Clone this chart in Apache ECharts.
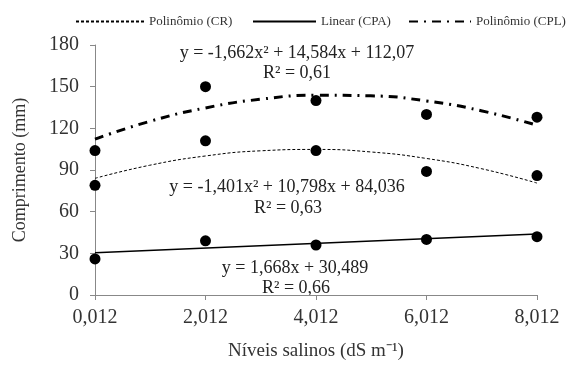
<!DOCTYPE html>
<html>
<head>
    <meta charset="utf-8">
    <style type="text/css">
        html,body { margin: 0px; padding: 0px; background: #fff; }
        #chart { width: 577px; height: 366px; }
    </style>
    <script src="https://cdn.jsdelivr.net/npm/echarts@6/dist/echarts.min.js"></script>
</head>
<body>
    <div id="chart"></div>
    <script type="text/javascript">
        // niveis salinos (dS m-1)
        var levels = [0.012, 2.012, 4.012, 6.012, 8.012];
        var xTickLabels = ['0,012', '2,012', '4,012', '6,012', '8,012'];

        // pontos observados
        var ptsCR  = [79, 111, 104, 89, 86];
        var ptsCPA = [26, 39, 36, 40, 42];
        var ptsCPL = [104, 150, 140, 130, 128];

        // linhas de tendencia
        var curveX   = [0.012, 1, 2.012, 3, 4.012, 5, 6.012, 7, 8.012];
        var curveCR  = [84, 93.4, 100.1, 103.8, 104.8, 103, 98.3, 91, 80.6];
        var curveCPL = [112.2, 125, 134.7, 140.9, 143.8, 143.4, 139.7, 132.7, 122.2];
        var lineX    = [0.012, 8.012];
        var lineCPA  = [30.5, 43.9];

        var FONT = 'Liberation Serif';
        var EQ_FONT = '18px "Liberation Serif"';

        function pairs(xs, ys) {
            return ys.map(function (v, i) { return [xs[i], v]; });
        }

        function eqText(txt, x, y) {
            return { type: 'text', style: { text: txt, x: x, y: y, align: 'center', verticalAlign: 'middle', font: EQ_FONT, fill: '#222' } };
        }

        var chart = echarts.init(document.getElementById('chart'));

        var legendText = { fontFamily: FONT, fontSize: 13, color: '#333' };
        var legendIcon = { opacity: 0 };

        var option = {
            animation: false,
            textStyle: { fontFamily: FONT },
            grid: { left: 95, right: 40, top: 45, bottom: 66 },
            legend: [
                { data: ['Polinômio (CR)'], left: 70, top: 10, itemWidth: 68, itemHeight: 4, itemGap: 6,
                  itemStyle: legendIcon, textStyle: legendText },
                { data: ['Linear (CPA)'], left: 247, top: 10, itemWidth: 63, itemHeight: 4,
                  itemStyle: legendIcon, textStyle: legendText },
                { data: ['Polinômio (CPL)'], left: 403, top: 10, itemWidth: 62, itemHeight: 4,
                  itemStyle: legendIcon, textStyle: legendText }
            ],
            xAxis: {
                type: 'value', min: 0.012, max: 8.012,
                name: 'Níveis salinos (dS m⁻¹)', nameLocation: 'middle', nameGap: 47,
                nameTextStyle: { fontFamily: FONT, fontSize: 19, color: '#333' },
                axisLine: { lineStyle: { color: '#888', width: 1 } },
                axisTick: { show: true, length: 5, lineStyle: { color: '#888' }, customValues: levels },
                axisLabel: {
                    customValues: levels, margin: 13,
                    fontFamily: FONT, fontSize: 20, color: '#333',
                    formatter: function (v) {
                        var i = levels.indexOf(Math.round(v * 1000) / 1000);
                        return i >= 0 ? xTickLabels[i] : '';
                    }
                },
                splitLine: { show: false }
            },
            yAxis: {
                type: 'value', min: 0, max: 180, interval: 30,
                name: 'Comprimento (mm)', nameLocation: 'middle', nameGap: 66,
                nameTextStyle: { fontFamily: FONT, fontSize: 18, color: '#333' },
                axisLine: { show: true, lineStyle: { color: '#888', width: 1 } },
                axisTick: { show: true, length: 5, lineStyle: { color: '#888' } },
                axisLabel: { fontFamily: FONT, fontSize: 20, color: '#333', margin: 16 },
                splitLine: { show: false }
            },
            series: [
                { type: 'scatter', name: 'pCR', data: pairs(levels, ptsCR), symbolSize: 11, itemStyle: { color: '#000', opacity: 1 } },
                { type: 'scatter', name: 'pCPA', data: pairs(levels, ptsCPA), symbolSize: 11, itemStyle: { color: '#000', opacity: 1 } },
                { type: 'scatter', name: 'pCPL', data: pairs(levels, ptsCPL), symbolSize: 11, itemStyle: { color: '#000', opacity: 1 } },
                { type: 'line', name: 'Polinômio (CR)', data: pairs(curveX, curveCR), smooth: true, symbol: 'none',
                  lineStyle: { color: '#000', width: 1, type: [3, 2] }, itemStyle: { color: '#000' } },
                { type: 'line', name: 'Linear (CPA)', data: pairs(lineX, lineCPA), symbol: 'none',
                  lineStyle: { color: '#000', width: 1.5, type: 'solid' }, itemStyle: { color: '#000' } },
                { type: 'line', name: 'Polinômio (CPL)', data: pairs(curveX, curveCPL), smooth: true, symbol: 'none',
                  lineStyle: { color: '#000', width: 3, type: [9, 6, 2, 6] }, itemStyle: { color: '#000' } }
            ],
            graphic: [
                eqText('y = -1,662x² + 14,584x + 112,07', 297, 53),
                eqText('R² = 0,61', 297, 73),
                eqText('y = -1,401x² + 10,798x + 84,036', 287, 187),
                eqText('R² = 0,63', 288, 208),
                eqText('y = 1,668x + 30,489', 295, 268),
                eqText('R² = 0,66', 296, 288)
            ]
        };

        chart.setOption(option);
    </script>
</body>
</html>
